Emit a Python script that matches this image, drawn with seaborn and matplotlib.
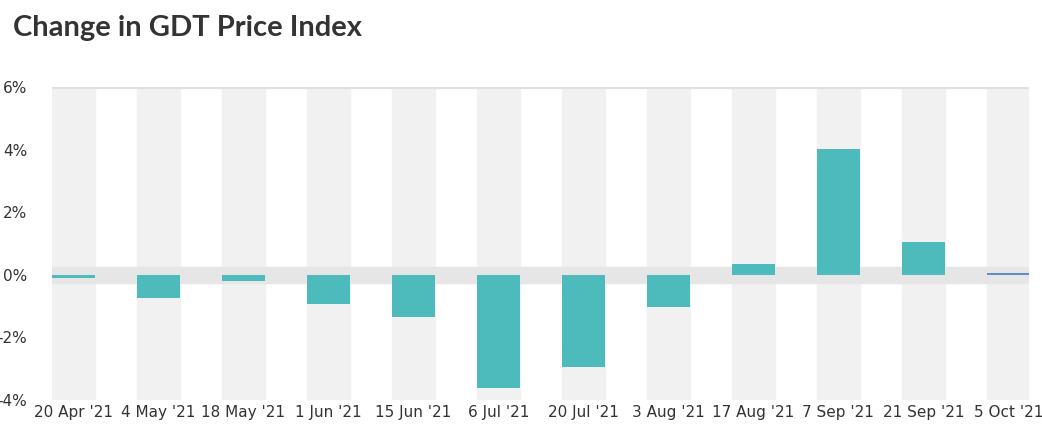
import matplotlib.pyplot as plt
import seaborn as sns
import pandas as pd

dates = ["20 Apr '21", "4 May '21", "18 May '21", "1 Jun '21", "15 Jun '21", "6 Jul '21",
         "20 Jul '21", "3 Aug '21", "17 Aug '21", "7 Sep '21", "21 Sep '21", "5 Oct '21"]
changes = [-0.1, -0.73, -0.2, -0.93, -1.34, -3.6, -2.94, -1.02, 0.35, 4.03, 1.05, 0.05]
bar_colors = ["#4dbbbb"] * 11 + ["#5b8fd0"]

df = pd.DataFrame({"date": dates, "change": changes})

fig = plt.figure(figsize=(10.42, 4.44), dpi=100)
ax = fig.add_axes([0.05, 0.099, 0.938, 0.705])

# grey column bands and the zero band
for i in range(len(dates)):
    ax.axvspan(i - 0.25, i + 0.25, color="#f1f1f1", zorder=0)
ax.axhspan(-0.25, 0.25, color="#e6e6e6", zorder=0.5)
ax.axhline(6, color="#e0e0e0", lw=3, zorder=0.6)

sns.barplot(data=df, x="date", y="change", hue="date", palette=bar_colors,
            width=0.5, saturation=1, legend=False, ax=ax, zorder=2)
# last bar drawn as a thin line
ax.patches[-1].set_height(0.05)

ax.set_xlim(-0.25, len(dates) - 0.75)
ax.set_ylim(-4, 6)
ax.set_yticks(range(-4, 7, 2))
ax.set_yticklabels([f"{v}%" for v in range(-4, 7, 2)])
ax.set_xlabel("")
ax.set_ylabel("")
for s in ax.spines.values():
    s.set_visible(False)
ax.tick_params(length=0, labelsize=11, colors="#333333")
ax.tick_params(axis="y", pad=18)

fig.text(0.012, 0.92, "Change in GDT Price Index", fontsize=21, fontweight="bold",
         color="#333333", family="Lato")
fig.savefig("out.png", dpi=100)
